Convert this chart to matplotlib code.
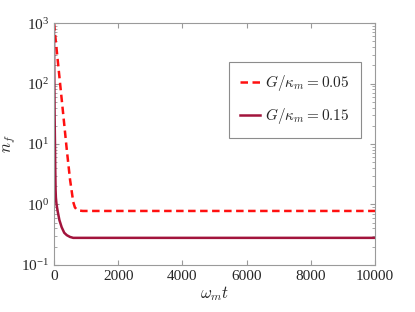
import math
import matplotlib
matplotlib.use('Agg')
import matplotlib.pyplot as plt
from matplotlib.ticker import FixedLocator, LogLocator, NullFormatter, FuncFormatter

plt.rcParams['font.family'] = ['Liberation Serif', 'DejaVu Serif']
plt.rcParams['mathtext.fontset'] = 'cm'

# G/kappa_m = 0.05 (dashed)
t1 = [0, 100, 200, 300, 400, 500, 600, 650, 700, 800, 900, 1000, 10000]
n1 = [1000, 300, 90, 27, 8, 2.6, 1.1, 0.9, 0.83, 0.79, 0.78, 0.78, 0.78]

# G/kappa_m = 0.15 (solid)
t2 = [0, 10, 20, 30, 40, 50, 60, 80, 120, 170, 240, 320, 400, 500, 600, 10000]
n2 = [1000, 150, 30, 12, 4, 1.8, 1.3, 1.0, 0.75, 0.55, 0.42, 0.34, 0.31, 0.29, 0.28, 0.28]

labels = [r'$G/\kappa_m = 0.05$', r'$G/\kappa_m = 0.15$']
xticks = [0, 2000, 4000, 6000, 8000, 10000]

fig = plt.figure(figsize=(4.15, 3.12), dpi=100)
ax = fig.add_axes([0.130, 0.151, 0.774, 0.775])

ax.semilogy(t1, n1, '--', color='#ff1010', lw=1.8, dashes=(3, 1.8), label=labels[0])
ax.semilogy(t2, n2, '-', color='#a2143c', lw=1.8, label=labels[1])

ax.set_xlim(0, 10000)
ax.set_ylim(0.1, 1000)
ax.xaxis.set_major_locator(FixedLocator(xticks))
ax.yaxis.set_major_locator(LogLocator(base=10, numticks=10))
ax.yaxis.set_minor_locator(LogLocator(base=10, subs=range(2, 10), numticks=10))
ax.yaxis.set_minor_formatter(NullFormatter())
ax.yaxis.set_major_formatter(FuncFormatter(lambda v, p: r'$\mathdefault{10^{%d}}$' % round(math.log10(v))))

for s in ax.spines.values():
    s.set_color('#9a9a9a')
    s.set_linewidth(0.8)
ax.tick_params(which='both', direction='in', top=True, right=True, colors='#9a9a9a',
               labelcolor='#262626', labelsize=11)
ax.tick_params(which='major', length=3.5)
ax.tick_params(which='minor', length=2)
for lab in ax.get_xticklabels() + ax.get_yticklabels():
    lab.set_fontfamily('Liberation Serif')

ax.set_xlabel(r'$\omega_m t$', fontsize=12, color='#262626', labelpad=1)
ax.set_ylabel(r'$n_f$', fontsize=12, color='#262626', labelpad=2)

leg = ax.legend(loc='upper right', bbox_to_anchor=(0.955, 0.84), fontsize=11,
                fancybox=False, framealpha=1, edgecolor='#8c8c8c',
                handlelength=1.3, handletextpad=0.3, labelspacing=0.85,
                borderpad=0.75, borderaxespad=0)
leg.get_frame().set_linewidth(0.8)
for txt in leg.get_texts():
    txt.set_color('#262626')

fig.savefig('out.png', dpi=100)
